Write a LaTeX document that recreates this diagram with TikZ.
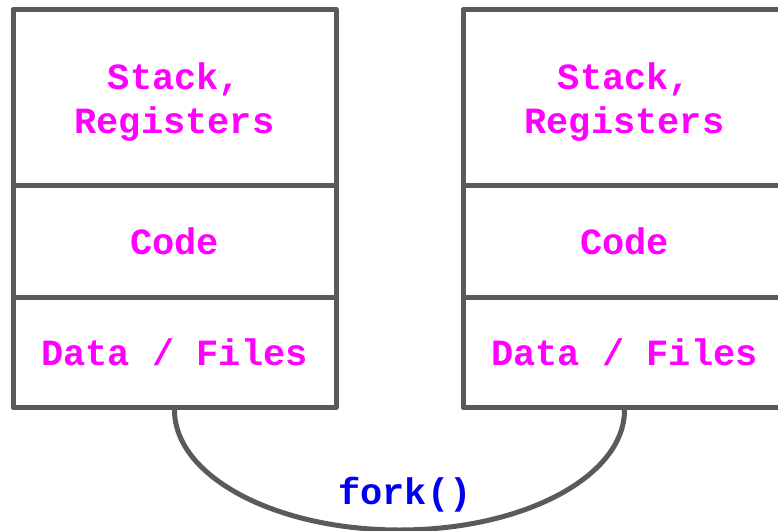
\documentclass[tikz,border=0pt]{standalone}
\usepackage{fontspec}
\setmonofont{Liberation Mono}
\definecolor{framegray}{HTML}{5A5A5A}
\definecolor{segmag}{HTML}{FF00FF}
\definecolor{callblue}{HTML}{0000F0}
\begin{document}
\begin{tikzpicture}[x=1pt,y=-1pt,
  cell/.style={draw=framegray, line width=5pt, line join=round,
    minimum width=323pt, inner sep=0pt, anchor=north,
    font=\ttfamily\bfseries\fontsize{37}{44}\selectfont,
    text=segmag, align=center},
  link/.style={draw=framegray, line width=5pt},
  call/.style={font=\ttfamily\bfseries\fontsize{37}{44}\selectfont, text=callblue, inner sep=0pt}]
\useasboundingbox (0,0) rectangle (778,530);
\clip (0,0) rectangle (778,530);
% parent process
\node[cell, minimum height=176pt] (lstack) at (174.5,7) {\rule{0pt}{35pt}Stack,\\Registers};
\node[cell, minimum height=112pt] (lcode) at (174.5,183) {Code};
\node[cell, minimum height=110pt] (ldata) at (174.5,295) {Data / Files};
% child process
\node[cell, minimum height=176pt] (rstack) at (624.5,7) {\rule{0pt}{35pt}Stack,\\Registers};
\node[cell, minimum height=112pt] (rcode) at (624.5,183) {Code};
\node[cell, minimum height=110pt] (rdata) at (624.5,295) {Data / Files};
% fork link between the two
\draw[link] (ldata.south) arc[start angle=180, end angle=0, x radius=225, y radius=120];
\node[call] (fork) at (405,495) {fork()};
\end{tikzpicture}
\end{document}
